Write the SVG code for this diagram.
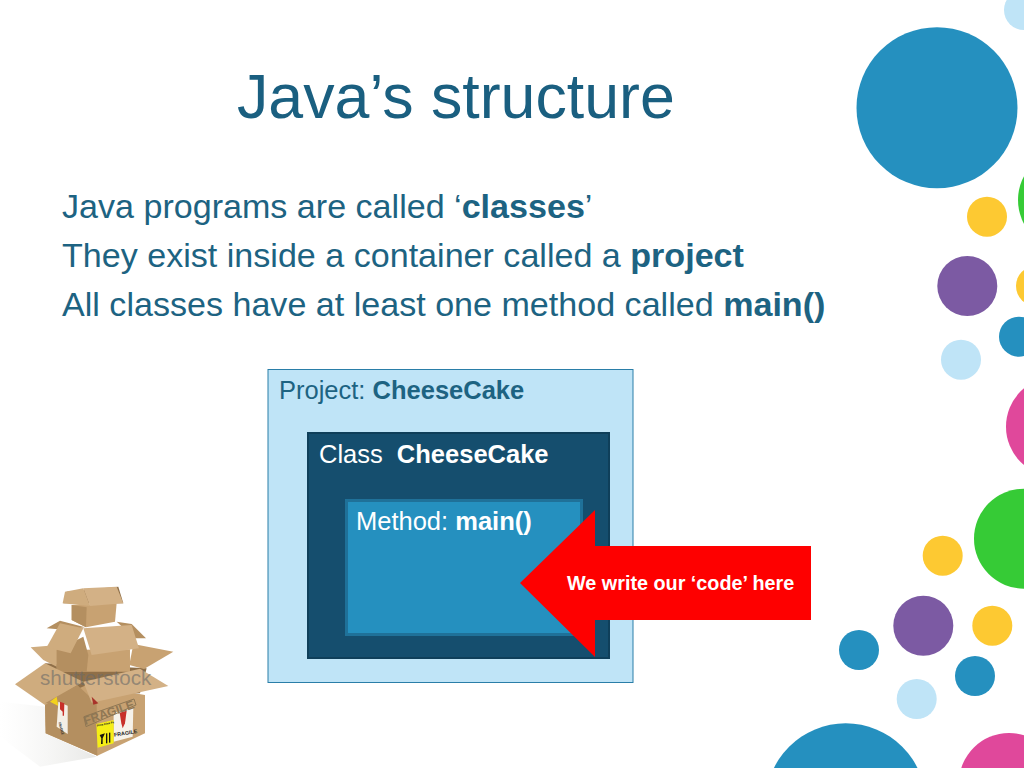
<svg xmlns="http://www.w3.org/2000/svg" width="1024" height="768" viewBox="0 0 1024 768">
<defs>
<linearGradient id="shadow" x1="0" x2="1" y1="0" y2="0"><stop offset="0" stop-color="#f2f2f0" stop-opacity="0"/><stop offset="1" stop-color="#e8e8e6"/></linearGradient>
</defs>
<style>
text{font-family:"Liberation Sans",Arial,sans-serif}
.b{font-weight:700}
.title{font-size:62.700px;fill:#1a5f80}
.body{font-size:34.100px;fill:#1d6382}
.lbl{font-size:25.500px}
.blue{fill:#2590bf}.light{fill:#bfe4f7}.yellow{fill:#fdc932}.purple{fill:#7c5aa3}.green{fill:#36cb36}.pink{fill:#e0489b}
.c1{fill:#c8a272}.c2{fill:#b48f60}.c3{fill:#cfac7e}.c4{fill:#8f6f48}.c5{fill:#d3b186}
</style>
<rect width="1024" height="768" fill="#fff"/>
<g id="decor">
<circle class="light" cx="1024" cy="10" r="20"/>
<circle class="blue" cx="937" cy="107.7" r="80.5"/>
<circle class="yellow" cx="987" cy="216.7" r="20"/>
<circle class="green" cx="1068" cy="200" r="50"/>
<circle class="purple" cx="967.3" cy="286" r="30"/>
<circle class="yellow" cx="1036" cy="286" r="20"/>
<circle class="blue" cx="1019" cy="336.7" r="20"/>
<circle class="light" cx="961" cy="359.7" r="20"/>
<circle class="pink" cx="1056" cy="426.7" r="50"/>
<circle class="green" cx="1024" cy="538.7" r="50"/>
<circle class="yellow" cx="942.7" cy="555.7" r="20"/>
<circle class="purple" cx="923.3" cy="625.7" r="30"/>
<circle class="yellow" cx="992.3" cy="625.7" r="20"/>
<circle class="blue" cx="859" cy="650" r="20"/>
<circle class="blue" cx="975" cy="676" r="20"/>
<circle class="light" cx="916.7" cy="699" r="20"/>
<circle class="blue" cx="845.7" cy="803.3" r="80"/>
<circle class="pink" cx="1009" cy="783" r="50"/>
</g>
<g id="title"><text class="title" x="237" y="118">Java’s structure</text></g>
<g id="bullets">
<text class="body" x="62" y="218">Java programs are called ‘<tspan class="b">classes</tspan>’</text>
<text class="body" x="62" y="267">They exist inside a container called a <tspan class="b">project</tspan></text>
<text class="body" x="62" y="316">All classes have at least one method called <tspan class="b">main()</tspan></text>
</g>
<g id="project">
<rect x="268" y="369.500" width="365" height="313" fill="#bfe4f7" stroke="#2a7ea8" stroke-width="1"/>
<text class="lbl" x="279" y="399" fill="#1d6382">Project: <tspan class="b">CheeseCake</tspan></text>
</g>
<g id="class">
<rect x="308" y="433" width="301" height="225" fill="#154e6e" stroke="#0f3f5a" stroke-width="2"/>
<text class="lbl" x="319" y="463" fill="#fff">Class  <tspan class="b" dx="7">CheeseCake</tspan></text>
</g>
<g id="method">
<rect x="346.500" y="500.500" width="235" height="134" fill="#2590bf" stroke="#1f7199" stroke-width="3"/>
<text class="lbl" x="356" y="530" fill="#fff">Method: <tspan class="b">main()</tspan></text>
</g>
<g id="arrow">
<polygon points="520,583 595,510 595,546 811,546 811,620 595,620 595,657" fill="#fe0000"/>
<text class="b" x="567" y="590" font-size="19.800" fill="#fff">We write our ‘code’ here</text>
</g>
<g id="boxes" transform="translate(0,570) scale(.3333)">
<polygon points="0,395 137,410 137,490 290,560 120,590 0,500" fill="url(#shadow)"/>
<polygon points="250,60 355,50 370,100 190,100 200,65" class="c4"/>
<polygon points="215,105 350,100 345,155 258,172 215,150" class="c1"/>
<polygon points="215,105 260,112 258,172 215,150" class="c2"/>
<polygon points="188,100 195,65 250,55 270,108 245,106" class="c3"/>
<polygon points="250,55 350,50 370,100 270,108" class="c5"/>
<polygon points="140,175 180,152 255,172 200,180" class="c2"/>
<polygon points="350,155 395,162 438,205 405,205" class="c2"/>
<polygon points="135,280 440,295 420,370 190,380" class="c4"/>
<polygon points="92,232 175,225 170,290 130,270" class="c3"/>
<polygon points="400,222 520,245 432,297 388,285" class="c1"/>
<polygon points="170,240 390,238 390,305 170,305" class="c1"/>
<polygon points="170,240 250,200 265,255 260,305 170,305" class="c2"/>
<polygon points="140,232 180,160 250,175 212,250" class="c3"/>
<polygon points="250,175 395,165 417,235 275,255" class="c5"/>
<polygon points="135,400 260,345 435,375 435,490 292,557 137,490" class="c1"/>
<polygon points="135,400 232,358 290,398 292,557 137,490" class="c2"/>
<polygon points="45,343 135,280 250,335 135,405" class="c3"/>
<polygon points="135,400 232,345 290,400" class="c2"/>
<polygon points="250,335 420,296 505,348 275,398" class="c5"/>
<polygon points="275,380 295,400 280,404" fill="#a8332a"/>
<polygon points="150,395 170,380 175,408" fill="#f3d21c"/>
<polygon points="175,395 203,407 203,492 170,470" fill="#f4efe6"/>
<polygon points="180,395 193,400 192,437 188,437 188,425 180,418" fill="#c8302a"/>
<polygon points="341,428 400,413 398,500 341,515" fill="#f6f2ea"/>
<polygon points="359,428 380,422 375,460 368,475 364,460" fill="#c8302a"/>
<polygon points="289,462 341,450 341,520 293,533" fill="#f5ee16"/>
<polygon points="299,495 315,490 308,505 308,522 303,522 304,505" fill="#15130f"/>
<rect x="318" y="490" width="4" height="30" fill="#15130f"/>
<rect x="327" y="488" width="4" height="30" fill="#15130f"/>
<polygon points="252,440 402,387 408,405 258,470" fill="none" stroke="#8f7754" stroke-width="3"/>
<text class="b" transform="translate(256,465) rotate(-19)" font-size="36" fill="#8f7754">FRAGILE</text>
<text class="b" transform="translate(343,500) rotate(-9)" font-size="16" fill="#222">FRAGILE</text>
<text class="b" transform="translate(292,470) rotate(-12)" font-size="9" fill="#222">Fine Fine Fx</text>
<text class="b" transform="translate(175,458) rotate(75) scale(.8,1)" font-size="11" fill="#222">FRAGILE</text>
<text x="120" y="345" font-size="62" fill="#6b6b69" fill-opacity=".62">shutterstock</text>
</g>
</svg>
